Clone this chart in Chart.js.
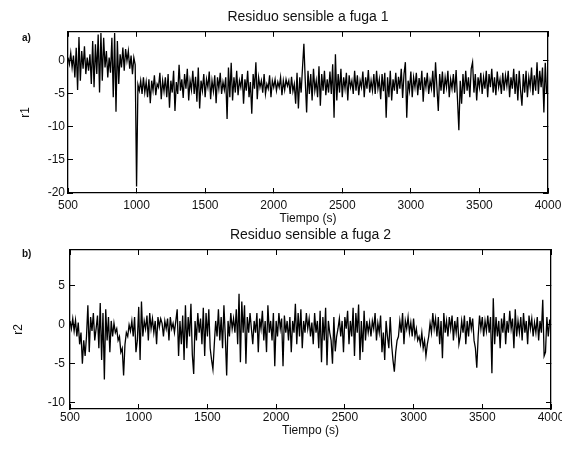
<!DOCTYPE html>
<html><head><meta charset="utf-8">
<script src="https://cdn.jsdelivr.net/npm/chart.js@4"></script>
<style>
html,body{margin:0;padding:0;background:#fff;}
#wrap{position:relative;width:562px;height:450px;overflow:hidden;background:#fff;}
canvas{position:absolute;left:0;}
#c1{top:0;}
#c2{top:225px;}
</style></head><body>
<div id="wrap">
<canvas id="c1" width="562" height="232"></canvas>
<canvas id="c2" width="562" height="225"></canvas>
</div>
<script>
// ---- data ----
const tStart = 500, tStep = 10;              // sampling of both residual series (s)
const xTicks = [500, 1000, 1500, 2000, 2500, 3000, 3500, 4000];
const r1Ticks = [-20, -15, -10, -5, 0];
const r2Ticks = [-10, -5, 0, 5];
const titles = ['Residuo sensible a fuga 1', 'Residuo sensible a fuga 2'];
const panelLabels = ['a)', 'b)'];
const xLabel = 'Tiempo (s)';
const yLabels = ['r1', 'r2'];

const r1 = [
  0.5,-0.5,1.2,-1.0,0.8,-2.5,2.0,-4.4,3.6,-3.0,
  1.5,-1.2,2.2,-2.0,0.5,-1.5,1.0,-3.5,3.0,-4.0,
  2.5,-2.0,4.0,-4.8,4.2,-3.0,3.5,-1.0,1.5,-2.5,
  0.5,-1.8,3.5,-5.5,4.2,-7.7,3.0,-3.5,1.0,-1.0,
  2.0,-1.5,1.8,0.0,1.5,-1.2,0.8,-2.0,0.5,-0.6,
  -19.0,
  -3.6,-4.5,-3.0,-5.0,-2.5,-4.8,-3.2,-5.5,-2.8,-6.4,
  -3.0,-4.5,-2.2,-5.2,-3.5,-4.0,-1.8,-5.8,-3.0,-4.6,
  -2.5,-5.5,-2.0,-7.1,-3.0,-4.8,-1.5,-7.6,-3.2,-5.0,
  -0.6,-4.5,-2.8,-5.6,-2.0,-4.2,-1.2,-6.0,-3.0,-4.4,
  -1.5,-5.0,-2.4,-6.2,-1.0,-7.2,-3.0,-4.5,-2.0,-5.5,
  -2.8,-4.0,-1.6,-5.8,-3.0,-4.6,-2.2,-6.4,-2.5,-4.2,
  -1.8,-5.0,-3.2,-4.4,-2.5,-8.8,-1.0,-5.5,-0.3,-6.0,
  -2.5,-4.8,-1.5,-5.2,-3.0,-4.0,-2.0,-6.5,-2.8,-4.5,
  -1.5,-5.5,-3.2,-8.0,-2.0,-4.2,-0.2,-5.8,-2.5,-4.0,
  -3.0,-4.8,-2.0,-5.0,-3.5,-4.2,-2.2,-5.5,-3.0,-4.0,
  -2.8,-4.5,-3.2,-4.0,-2.5,-5.2,-3.0,-4.4,-2.8,-3.8,
  -3.0,-5.0,-2.4,-4.6,-3.5,-6.5,-1.8,-7.2,-2.5,-4.8,
  -1.0,2.6,-3.0,-7.8,-1.5,-5.0,-2.0,-6.0,-1.2,-4.5,
  -3.0,-5.5,-0.8,-6.8,-2.0,-4.5,-1.5,-5.2,-2.8,-4.8,
  -1.6,-5.0,-0.5,-8.6,1.0,-6.0,-2.0,-4.8,-1.2,-5.5,
  -2.5,-4.2,-1.8,-6.0,-2.2,-4.0,-3.0,-5.0,-1.5,-4.5,
  -2.2,-5.2,-3.0,-4.0,-1.6,-5.5,-2.5,-4.2,-1.4,-4.8,
  -3.0,-4.5,-2.0,-5.0,-1.5,-4.2,-2.8,-5.8,-2.0,-4.6,
  -1.8,-8.6,-2.5,-5.5,-1.5,-6.0,-2.8,-4.5,-1.8,-5.0,
  -2.4,-4.2,-1.2,-5.6,-2.0,-0.2,-8.6,-3.0,-4.5,-1.6,
  -5.5,-2.5,-4.0,-1.8,-5.2,-2.6,-4.4,-1.5,-6.2,-2.5,
  -4.0,-1.8,-5.0,-3.0,-4.2,-1.5,-5.5,-0.2,-4.0,-7.6,
  -2.0,-4.5,-1.6,-5.0,-2.5,-4.0,-1.5,-5.5,-2.8,-4.2,
  -2.0,-4.8,-1.4,-5.8,-10.5,-3.0,-6.5,-2.0,-5.0,-1.5,
  -4.5,-2.5,-5.5,-1.2,-0.2,-4.8,-2.0,-6.0,-2.5,-4.0,
  -1.8,-5.0,-2.5,-4.2,-1.5,-5.5,-2.0,-4.0,-1.2,-4.8,
  -2.5,-5.2,-1.6,-4.0,-2.8,-5.0,-1.8,-4.5,-2.2,-3.8,
  -1.5,-5.5,-2.5,-4.2,-1.2,-5.0,-2.0,-6.0,-1.5,-4.5,
  -6.8,-2.0,-4.8,-1.5,-5.5,-2.5,-4.0,-1.0,-5.2,-2.2,
  -4.5,-0.2,-5.0,-1.5,-4.0,-1.0,-7.8,-0.3,-5.0,-3.5
];

const r2 = [
  0.5,-0.5,0.8,-0.8,0.6,-1.5,0.3,-2.5,-1.0,-5.0,
  -2.0,-4.0,-1.5,2.5,-3.5,1.0,-0.8,1.5,-2.0,-0.5,
  1.2,-3.0,2.8,-4.5,1.5,-7.0,2.0,-2.0,1.0,-3.5,
  0.5,-1.5,0.2,-1.0,-0.5,-2.0,-1.5,-3.5,-3.0,-6.5,
  -2.5,-1.0,-1.5,0.0,-0.8,0.5,-1.5,1.0,-3.5,-2.0,
  2.3,-4.5,3.0,-1.5,0.5,-0.5,1.2,-2.0,1.5,-0.5,
  0.8,-1.0,0.5,-2.5,1.0,-0.3,0.8,0.2,-1.5,0.5,
  -0.5,0.8,-2.0,1.0,-0.5,0.2,-1.0,0.5,2.0,-4.0,
  0.5,-2.5,1.2,-4.5,2.5,-3.0,1.0,-1.5,2.7,-3.8,
  -6.3,0.5,-2.0,1.5,-1.0,0.8,-2.5,2.2,-4.0,1.5,
  -1.5,2.0,-3.0,-4.5,-5.7,-2.5,0.5,-1.5,2.0,-2.0,
  1.0,-3.0,2.5,-1.5,-6.5,0.5,-1.5,1.5,-0.5,0.8,
  -1.0,2.0,-2.5,4.0,-4.8,3.0,-1.0,2.5,-5.0,1.0,
  -1.0,1.5,-0.5,-2.5,0.5,-1.0,1.5,-3.5,0.8,-0.5,
  1.8,-2.0,0.5,-3.5,2.5,-1.0,0.5,-2.0,1.5,-5.3,
  0.5,-1.5,1.5,-0.5,0.8,-5.3,1.2,-1.0,0.5,-2.0,
  1.0,-3.5,0.5,-1.0,2.7,-2.5,1.5,-1.5,2.0,-3.0,
  0.5,-1.0,1.5,-0.5,0.8,-1.5,0.3,-2.5,1.5,-1.0,
  0.5,-3.0,1.8,-4.8,1.0,-2.0,2.2,-5.2,0.5,-1.0,
  -2.0,-5.0,1.0,-3.4,-1.5,-0.5,0.8,-1.5,0.5,-3.5,
  1.0,-0.5,1.8,-2.5,0.5,-1.5,2.2,-4.0,1.5,-1.0,
  2.6,-4.5,0.5,-3.5,1.8,-2.0,0.5,-1.0,0.3,-1.5,
  0.5,-0.5,1.5,-2.0,0.2,-1.0,1.2,-3.5,-1.0,-4.5,
  0.5,-1.5,-3.0,1.0,-2.5,-4.5,-6.0,-3.5,-2.0,-1.5,
  0.5,-1.0,1.5,-2.5,0.5,-0.5,1.0,-1.0,0.3,-1.5,
  0.8,-1.5,-0.5,-2.0,-1.5,-2.5,-1.0,-3.0,-2.0,-4.0,
  -2.5,-1.5,0.2,-1.0,1.5,-0.5,0.8,-1.5,1.0,-2.5,
  0.5,-4.3,1.5,-1.0,0.5,-1.5,1.0,-0.5,1.2,-2.0,
  0.5,-1.0,1.0,-2.5,-1.5,0.5,-1.0,1.2,-2.5,0.5,
  -1.5,1.0,-0.5,0.8,-2.0,-3.0,-5.5,-1.5,1.2,-0.5,
  1.0,-1.5,0.5,-0.8,1.2,-1.0,1.0,-6.2,3.4,-2.5,
  1.0,-1.5,0.5,-3.0,0.8,-1.0,1.5,-2.5,0.5,-1.0,
  1.8,-0.5,0.8,-3.0,2.0,-1.5,0.5,-1.0,1.0,-2.0,
  1.5,-1.0,0.5,-2.5,1.2,-0.5,0.8,-1.5,0.3,-1.0,
  1.0,-2.0,0.5,-1.0,3.2,-4.0,-3.5,1.0,-1.5,0.5,
  0.2
];

// ---- chart building ----
const FONT = "'Liberation Sans', Arial, Helvetica, sans-serif";
const INK = '#111';

const panelLabelPlugin = {
  id: 'panelLabel',
  afterDraw(chart, args, opts) {
    const ctx = chart.ctx;
    ctx.save();
    ctx.font = 'bold 10px ' + FONT;
    ctx.fillStyle = INK;
    ctx.textBaseline = 'middle';
    ctx.textAlign = 'left';
    ctx.fillText(opts.text, opts.x, opts.y);
    ctx.restore();
  }
};

function setTicks(arr) { return s => { s.ticks = arr.map(v => ({ value: v })); }; }
function fixSize(prop, val) {
  return s => { s[prop] = val; s.paddingLeft = 0; s.paddingRight = 0; s.paddingTop = 0; s.paddingBottom = 0; };
}
const grid = { drawOnChartArea: false, drawTicks: true, tickLength: -5, color: '#000', lineWidth: 1 };
const border = { display: true, color: '#000', width: 1.3 };
const tickFont = { size: 12, family: FONT };

function makeChart(canvasId, values, yTicks, yMin, yMax, L) {
  const pts = values.map((v, i) => ({ x: tStart + i * tStep, y: v }));
  return new Chart(document.getElementById(canvasId), {
    type: 'line',
    data: { datasets: [{ data: pts, borderColor: '#000', borderWidth: 1.3, pointRadius: 0, tension: 0, fill: false }] },
    plugins: [panelLabelPlugin],
    options: {
      responsive: false, animation: false, events: [],
      layout: { padding: { left: 10, right: L.right, top: 0, bottom: 0 } },
      plugins: {
        legend: { display: false }, tooltip: { enabled: false },
        title: { display: true, text: L.title, fullSize: false, color: INK,
                 font: { size: 14, family: FONT, weight: 'normal' },
                 padding: { top: L.titleTop, bottom: L.titleBottom } },
        panelLabel: { text: L.panel, x: 22, y: L.panelY }
      },
      scales: {
        x: { type: 'linear', position: 'bottom', min: xTicks[0], max: xTicks[xTicks.length - 1],
             afterBuildTicks: setTicks(xTicks), afterFit: fixSize('height', L.xh),
             grid, border,
             ticks: { padding: L.xTickPad, color: INK, font: tickFont, maxRotation: 0, autoSkip: false, callback: v => String(v) },
             title: { display: true, text: xLabel, color: INK, font: { size: 12, family: FONT }, padding: { top: 0, bottom: L.xTitlePad } } },
        x2: { type: 'linear', position: 'top', min: xTicks[0], max: xTicks[xTicks.length - 1],
              afterBuildTicks: setTicks(xTicks), afterFit: fixSize('height', 0),
              grid, border, ticks: { display: false } },
        y: { type: 'linear', position: 'left', min: yMin, max: yMax,
             afterBuildTicks: setTicks(yTicks), afterFit: fixSize('width', L.yw),
             grid, border,
             ticks: { padding: L.yTickPad, color: INK, font: tickFont, callback: v => String(v) },
             title: { display: true, text: L.ylab, color: INK, font: { size: 12, family: FONT }, padding: { top: L.yTitlePad, bottom: 0 } } },
        y2: { type: 'linear', position: 'right', min: yMin, max: yMax,
              afterBuildTicks: setTicks(yTicks), afterFit: fixSize('width', 0),
              grid, border, ticks: { display: false } }
      }
    }
  });
}

makeChart('c1', r1, r1Ticks, -20, 4.4, {
  title: titles[0], panel: panelLabels[0], panelY: 38, ylab: yLabels[0],
  right: 14, yw: 58, xh: 39, titleTop: 9, titleBottom: 6,
  xTickPad: 10, xTitlePad: 6, yTickPad: 8, yTitlePad: 8
});
makeChart('c2', r2, r2Ticks, -10.8, 9.6, {
  title: titles[1], panel: panelLabels[1], panelY: 29, ylab: yLabels[1],
  right: 11, yw: 60, xh: 41, titleTop: 2, titleBottom: 6.2,
  xTickPad: 6, xTitlePad: 12, yTickPad: 10, yTitlePad: 1
});
</script>
</body></html>
